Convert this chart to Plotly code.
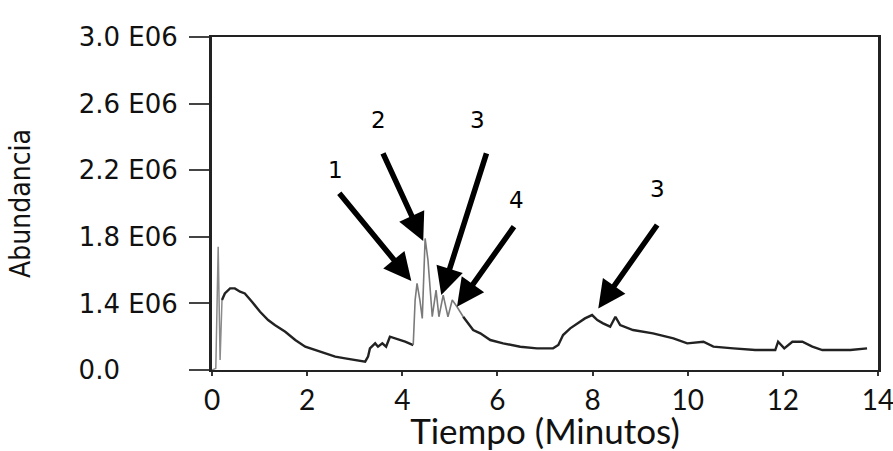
import plotly.graph_objects as go

# chromatogram trace (time in minutes, abundance in E06)
tiempo = [0.0, 0.08, 0.13, 0.17, 0.21, 0.27, 0.38, 0.48, 0.59, 0.69, 0.84, 1.01, 1.18, 1.32,
          1.54, 1.75, 1.96, 2.17, 2.38, 2.59, 2.80, 3.01, 3.22, 3.28, 3.32, 3.43, 3.49, 3.58,
          3.66, 3.74, 3.85, 4.06, 4.23, 4.27, 4.31, 4.37, 4.42, 4.48, 4.54, 4.63, 4.71, 4.77,
          4.86, 4.96, 5.05, 5.15, 5.28, 5.49, 5.64, 5.85, 6.12, 6.48, 6.83, 7.17, 7.28, 7.38,
          7.53, 7.68, 7.84, 7.99, 8.10, 8.22, 8.37, 8.48, 8.58, 8.85, 9.27, 9.70, 9.99, 10.33,
          10.54, 10.96, 11.42, 11.84, 11.90, 12.03, 12.20, 12.41, 12.62, 12.83, 13.10, 13.42,
          13.77]
abundancia = [1.00, 1.01, 1.74, 1.06, 1.42, 1.46, 1.49, 1.49, 1.47, 1.46, 1.41, 1.35, 1.30, 1.27,
              1.23, 1.18, 1.14, 1.12, 1.10, 1.08, 1.07, 1.06, 1.05, 1.08, 1.13, 1.16, 1.14, 1.16,
              1.14, 1.20, 1.19, 1.17, 1.15, 1.42, 1.52, 1.42, 1.31, 1.79, 1.66, 1.32, 1.48, 1.32,
              1.45, 1.32, 1.42, 1.38, 1.32, 1.24, 1.22, 1.18, 1.16, 1.14, 1.13, 1.13, 1.15, 1.21,
              1.25, 1.28, 1.31, 1.33, 1.30, 1.28, 1.26, 1.32, 1.27, 1.24, 1.22, 1.19, 1.16, 1.17,
              1.14, 1.13, 1.12, 1.12, 1.17, 1.13, 1.17, 1.17, 1.14, 1.12, 1.12, 1.12, 1.13]

y_ticks = [1.0, 1.4, 1.8, 2.2, 2.6, 3.0]
y_ticktext = ["0.0" + "\u00a0" * 7, "1.4 E06", "1.8 E06", "2.2 E06", "2.6 E06", "3.0 E06"]
x_ticks = [0, 2, 4, 6, 8, 10, 12, 14]

# peak markers
pico_label = ["1", "2", "3", "4", "3"]
pico_t = [4.19, 4.44, 4.82, 5.15, 8.12]
pico_v = [1.535, 1.775, 1.45, 1.38, 1.37]
cola_t = [2.65, 3.58, 5.78, 6.37, 9.38]
cola_v = [2.07, 2.31, 2.31, 1.87, 1.88]
label_t = [2.59, 3.49, 5.59, 6.41, 9.36]
label_v = [2.20, 2.50, 2.50, 2.02, 2.09]

# grey thin parts: injection spike and the resolved peaks
segmentos = [
    (0.0, 0.21, "#8a8a8a", 1.5),
    (0.21, 4.23, "#222222", 2.4),
    (4.23, 5.28, "#7a7a7a", 1.6),
    (5.28, 13.77, "#222222", 2.4),
]

fig = go.Figure()
for t0, t1, color, ancho in segmentos:
    i0, i1 = tiempo.index(t0), tiempo.index(t1)
    fig.add_trace(go.Scatter(x=tiempo[i0:i1 + 1], y=abundancia[i0:i1 + 1], mode="lines",
                             line=dict(color=color, width=ancho), showlegend=False))

for lab, xt, yt, xa, ya, xl, yl in zip(pico_label, pico_t, pico_v, cola_t, cola_v, label_t, label_v):
    fig.add_annotation(x=xt, y=yt, ax=xa, ay=ya, axref="x", ayref="y", text="",
                       showarrow=True, arrowhead=2, arrowsize=1.0, arrowwidth=5.5,
                       arrowcolor="black")
    fig.add_annotation(x=xl, y=yl, text=lab, showarrow=False,
                       font=dict(family="DejaVu Sans", size=23, color="black"))

fig.update_layout(
    width=893, height=451,
    margin=dict(l=212, r=15, t=37, b=81),
    paper_bgcolor="white", plot_bgcolor="white",
    xaxis=dict(
        range=[0, 14], tickvals=x_ticks, showgrid=False, zeroline=False, automargin=False,
        showline=True, linecolor="#222222", linewidth=2, mirror=True,
        ticks="outside", ticklen=4, tickwidth=2, tickcolor="#333333",
        ticklabelstandoff=0, ticklabeloverflow="allow",
        tickfont=dict(family="Lato", size=28, color="#111111"),
        title=dict(text="Tiempo (Minutos)", standoff=16,
                   font=dict(family="Lato", size=35, color="#111111")),
    ),
    yaxis=dict(
        range=[1.0, 3.0], tickvals=y_ticks, ticktext=y_ticktext, showgrid=False, zeroline=False,
        automargin=False,
        showline=True, linecolor="#222222", linewidth=3, mirror=True,
        ticks="outside", ticklen=20, tickwidth=2, tickcolor="#444444",
        ticklabelstandoff=6,
        tickfont=dict(family="DejaVu Sans", size=26, color="#111111"),
        title=dict(text="Abundancia", standoff=40,
                   font=dict(family="DejaVu Sans Condensed", size=28, color="#111111")),
    ),
)

# drop the default page margin so the 893x451 figure fills the window exactly
fig.write_html("out.html", config={"displayModeBar": False},
               post_script="document.body.style.margin='0';document.body.style.overflow='hidden';")
